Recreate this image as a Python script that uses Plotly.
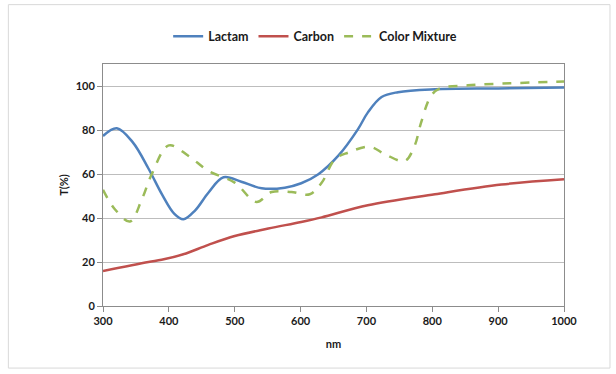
import plotly.graph_objects as go

lactam_nm = [300, 321, 345, 369, 390, 408, 422, 440, 460, 483, 510, 541, 576, 601, 627, 657, 687, 702, 723, 748, 804, 900, 1000]
lactam_t = [77.3, 80.8, 74.5, 62.5, 50.5, 42.0, 39.4, 43.5, 51.5, 58.5, 56.5, 53.5, 53.8, 55.8, 59.9, 68.2, 80.3, 87.9, 95.0, 97.2, 98.5, 98.9, 99.3]

carbon_nm = [300, 369, 389, 422, 460, 500, 551, 601, 632, 702, 804, 905, 1000]
carbon_t = [15.9, 20.0, 21.0, 23.5, 27.8, 31.8, 35.2, 38.2, 40.3, 45.8, 50.8, 55.2, 57.6]

mix_nm = [300, 318, 341, 359, 374, 400, 430, 460, 500, 533, 556, 586, 614, 632, 652, 672, 705, 728, 758, 773, 783, 798, 811, 854, 1000]
mix_t = [52.8, 44.0, 38.4, 48.5, 59.9, 73.0, 68.2, 61.4, 56.1, 47.3, 51.8, 51.8, 50.8, 56.0, 66.7, 69.7, 72.4, 69.0, 65.9, 72.7, 83.4, 95.5, 98.8, 100.3, 102.0]

x_ticks = [300, 400, 500, 600, 700, 800, 900, 1000]
y_ticks = [0, 20, 40, 60, 80, 100]

fig = go.Figure()
fig.add_trace(go.Scatter(x=lactam_nm, y=lactam_t, name="Lactam", mode="lines",
                         line=dict(color="#4F81BD", width=2.5, shape="spline", smoothing=1.0)))
fig.add_trace(go.Scatter(x=carbon_nm, y=carbon_t, name="Carbon", mode="lines",
                         line=dict(color="#C0504D", width=2.5, shape="spline", smoothing=1.0)))
fig.add_trace(go.Scatter(x=mix_nm, y=mix_t, name="Color Mixture", mode="lines",
                         line=dict(color="#9BBB59", width=2.5, dash="dash", shape="spline", smoothing=1.0)))

font = dict(family="Lato", size=11, color="#1A1A1A", weight="bold")

L, R, T, B = 102.7, 52, 64.3, 68
pw, ph = 616 - L - R, 374 - T - B

def px(xp):
    return (xp - L) / pw

def py(yp):
    return (374 - B - yp) / ph

fig.update_layout(
    width=616, height=374,
    margin=dict(l=L, r=R, t=T, b=B, autoexpand=False),
    paper_bgcolor="white", plot_bgcolor="white",
    font=font,
    showlegend=True,
    legend=dict(orientation="h", x=px(315), xanchor="center", y=py(37), yanchor="middle",
                font=dict(family="Lato", size=12.5, color="#1A1A1A", weight="bold"),
                itemwidth=30, tracegroupgap=0, bgcolor="rgba(0,0,0,0)"),
    xaxis=dict(range=[300, 1000], tickvals=x_ticks, ticktext=[str(v) for v in x_ticks],
               showgrid=False, showline=True, linecolor="#8C8C8C", linewidth=1, mirror=True,
               ticks="outside", ticklen=5, tickcolor="#8C8C8C",
               title=dict(text="nm", font=font, standoff=14), zeroline=False),
    yaxis=dict(range=[0, 110], tickvals=y_ticks, ticktext=[str(v) for v in y_ticks],
               showgrid=True, gridcolor="#BDBDBD", gridwidth=1,
               showline=True, linecolor="#8C8C8C", linewidth=1, mirror=True,
               ticks="outside", ticklen=5, tickcolor="#8C8C8C",
               title=dict(text="T(%)", font=font, standoff=4), zeroline=False),
    shapes=[dict(type="rect", xref="paper", yref="paper",
                 x0=px(8), x1=px(610), y0=py(368), y1=py(5),
                 line=dict(color="#D9D9D9", width=1), fillcolor="rgba(0,0,0,0)", layer="below")],
)

fig.write_html("out.html", config={"displayModeBar": False},
               post_script="document.body.style.margin='0';")
